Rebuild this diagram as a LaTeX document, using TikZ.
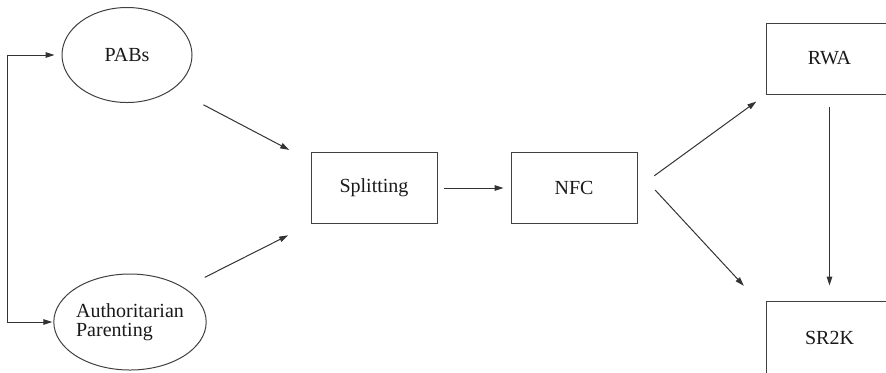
\documentclass[tikz,border=0pt]{standalone}
\usepackage{fontspec}
\setmainfont{Liberation Serif}
\usetikzlibrary{positioning,shapes.geometric,arrows.meta}

\begin{document}
\begin{tikzpicture}[x=0.5pt,y=-0.5pt,
	every node/.style={font=\fontsize{10}{9.5}\selectfont, text=black!90},
	oval/.style={draw=black!75, line width=0.5pt, ellipse, inner sep=0pt, minimum width=65pt, minimum height=47.5pt},
	block/.style={draw=black!75, line width=0.5pt, rectangle, minimum width=63pt, minimum height=35.5pt},
	arr/.style={draw=black!80, line width=0.5pt, -{Triangle[length=4.5pt,width=2.8pt]}},
	twoarr/.style={draw=black!80, line width=0.5pt, {Triangle[length=4.5pt,width=2.8pt]}-{Triangle[length=4.5pt,width=2.8pt]}}]
	\useasboundingbox (0,0) rectangle (886,372);
	\clip (0,0) rectangle (886,372);
	\node[oval] (pabs) at (127,55) {PABs};
	\node[oval, minimum width=72pt, minimum height=48pt, align=left] (auth) at (130,322) {Authoritarian\\Parenting};
	\node[block] (split) at (374,188) {Splitting};
	\node[block, right=36.5pt of split] (nfc) {NFC};
	\node[block] (rwa) at (829.5,58.5) {RWA};
	\node[block, minimum height=37pt, below=103pt of rwa] (sr2k) {SR2K};

	\draw[twoarr, shorten <=3.5pt, shorten >=0.5pt] (pabs.west) -- ++(-54,0) |- (auth.west);
	\draw[arr, shorten <=17pt, shorten >=12pt] (pabs.south east) -- (split.157);
	\draw[arr, shorten <=11.5pt, shorten >=12.5pt] (auth.north east) -- (split.south west);
	\draw[arr, shorten <=3pt, shorten >=3.5pt] (split) -- (nfc);
	\draw[arr, shorten <=10.4pt, shorten >=6pt] (nfc.east) -- (rwa.south west);
	\draw[arr, shorten <=13pt, shorten >=16.3pt] (nfc.15) -- (sr2k.156);
	\draw[arr, shorten <=6pt, shorten >=7.5pt] (rwa) -- (sr2k);
\end{tikzpicture}
\end{document}
